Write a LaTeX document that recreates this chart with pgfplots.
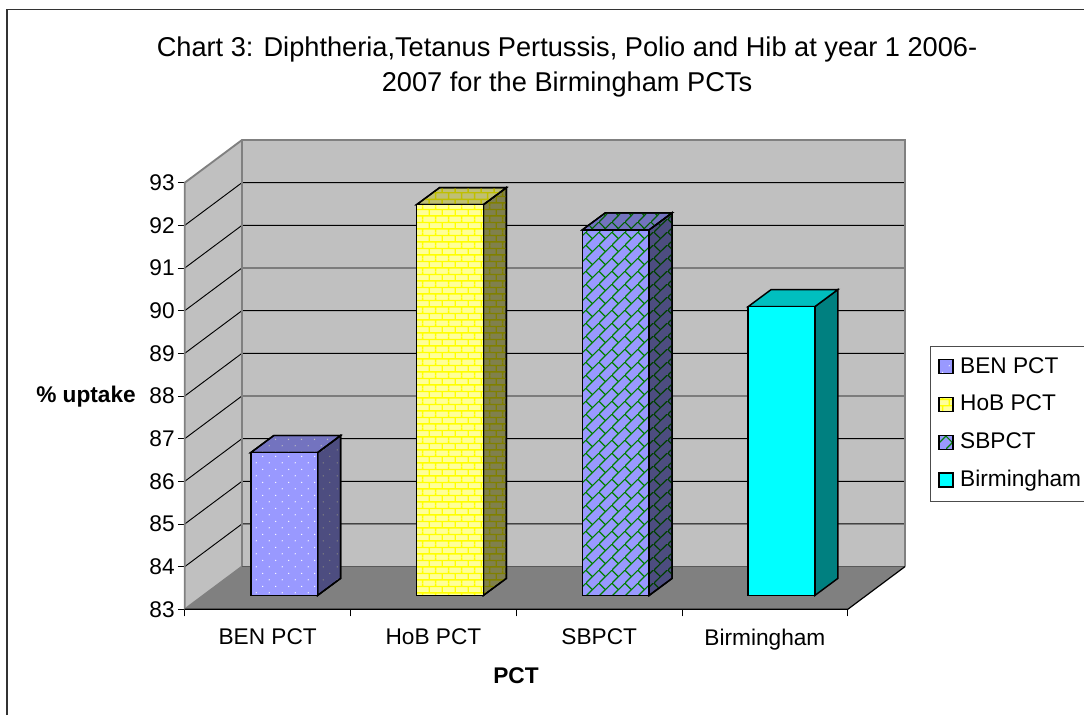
\documentclass[border=0pt]{standalone}
\usepackage{fontspec}
\setmainfont{Liberation Sans}
\usepackage{pgfplots}
\pgfplotsset{compat=1.18}
\usetikzlibrary{patterns}
\pgfdeclarepatternformonly{xdots}{\pgfqpoint{0pt}{0pt}}{\pgfqpoint{10pt}{10pt}}{\pgfqpoint{10pt}{10pt}}{
  \pgfpathcircle{\pgfqpoint{2.5pt}{2.5pt}}{0.55pt}
  \pgfpathcircle{\pgfqpoint{7.5pt}{7.5pt}}{0.55pt}
  \pgfusepath{fill}}
\pgfdeclarepatternformonly{xbricks}{\pgfqpoint{0pt}{0pt}}{\pgfqpoint{10pt}{10pt}}{\pgfqpoint{10pt}{10pt}}{
  \pgfsetlinewidth{1.1pt}
  \pgfpathmoveto{\pgfqpoint{0pt}{2.5pt}}\pgfpathlineto{\pgfqpoint{10pt}{2.5pt}}
  \pgfpathmoveto{\pgfqpoint{0pt}{7.5pt}}\pgfpathlineto{\pgfqpoint{10pt}{7.5pt}}
  \pgfpathmoveto{\pgfqpoint{2.5pt}{2.5pt}}\pgfpathlineto{\pgfqpoint{2.5pt}{7.5pt}}
  \pgfpathmoveto{\pgfqpoint{7.5pt}{7.5pt}}\pgfpathlineto{\pgfqpoint{7.5pt}{10pt}}
  \pgfpathmoveto{\pgfqpoint{7.5pt}{0pt}}\pgfpathlineto{\pgfqpoint{7.5pt}{2.5pt}}
  \pgfusepath{stroke}}
\pgfdeclarepatternformonly{xdiag}{\pgfqpoint{0pt}{0pt}}{\pgfqpoint{10pt}{10pt}}{\pgfqpoint{10pt}{10pt}}{
  \pgfsetlinewidth{0.9pt}
  \pgfpathmoveto{\pgfqpoint{-1pt}{-1pt}}\pgfpathlineto{\pgfqpoint{11pt}{11pt}}
  \pgfpathmoveto{\pgfqpoint{5pt}{5pt}}\pgfpathlineto{\pgfqpoint{-1pt}{11pt}}
  \pgfusepath{stroke}}
\definecolor{wallc}{HTML}{C0C0C0}
\definecolor{floorc}{HTML}{808080}
\definecolor{blueF}{HTML}{9999FF}
\definecolor{blueS}{HTML}{4D4D80}
\definecolor{blueT}{HTML}{7373BF}
\definecolor{yelF}{HTML}{FFFF99}
\definecolor{yelS}{HTML}{80804D}
\definecolor{yelT}{HTML}{BFBF73}
\definecolor{morF}{HTML}{FFFF00}
\definecolor{morS}{HTML}{808000}
\definecolor{morT}{HTML}{BFBF00}
\definecolor{grnF}{HTML}{008000}
\definecolor{grnS}{HTML}{004000}
\definecolor{grnT}{HTML}{006000}
\definecolor{cyaF}{HTML}{00FFFF}
\definecolor{cyaS}{HTML}{008080}
\definecolor{cyaT}{HTML}{00BFBF}
\definecolor{dotS}{HTML}{808080}
\definecolor{dotT}{HTML}{BFBFBF}
\tikzset{
  pat/.style n args={3}{fill=#1,postaction={pattern=#2,pattern color=#3}},
  barshift/.style={shift={(12.4pt,10.35pt)},draw=black,line width=1.1pt,line join=miter},
}
\pgfplotsset{
  legendpatch/.style={legend image code/.code={\draw[##1,draw=black,line width=1pt] (0pt,-5pt) rectangle (10.5pt,5.5pt);}},
}
\begin{document}
\begin{tikzpicture}[x=1pt,y=1pt]
\useasboundingbox (0,0) rectangle (813pt,536.25pt);
\draw[black!80,line width=1.3pt] (5.2pt,0) -- (5.2pt,529.2pt) -- (813pt,529.2pt);
\begin{axis}[
  at={(138.6pt,79.3pt)},anchor=origin,
  scale only axis,width=497.25pt,height=319.95pt,
  xmin=0,xmax=4,ymin=83,ymax=93,clip=false,
  axis line style={draw=none},
  xtick={0,1,2,3,4},
  x tick label as interval,
  xticklabels={BEN PCT,HoB PCT,SBPCT,Birmingham},
  ytick={83,84,85,86,87,88,89,90,91,92,93},
  tick align=outside,tick pos=left,major tick length=5.25pt,
  tick style={black,line width=0.6pt},
  /pgf/number format/assume math mode=true,
  tick label style={font=\fontsize{17}{20}\selectfont},
  xticklabel style={yshift=-6pt},
  yticklabel style={xshift=1.2pt},
  label style={font=\bfseries\fontsize{17}{20}\selectfont},
  xlabel={PCT},
  xlabel style={at={(axis description cs:0.4995,-0.1565)},anchor=center},
  ylabel={\% uptake},
  ylabel style={at={(axis description cs:-0.149,0.4975)},rotate=-90,anchor=center},
  title={Chart 3: Diphtheria,Tetanus Pertussis, Polio and Hib at year 1 2006-\\2007 for the Birmingham PCTs},
  title style={at={(axis description cs:0.5765,1.2524)},anchor=center,align=center,font=\fontsize{20.4}{26}\selectfont},
  legend style={at={(axis description cs:1.1237,0.617)},anchor=north west,draw=black!70,line width=0.6pt,
    font=\fontsize{17}{20}\selectfont,inner xsep=6pt,inner ysep=6pt,
    nodes={text height=12pt,text depth=3pt},/tikz/row sep=9.3pt,/tikz/column sep=3pt},
  legend cell align=left,
]
% walls and floor
\addplot[forget plot,fill=wallc,draw=none] coordinates {(0,83)(0,93)(0.345,94)(0.345,84)} -- cycle;
\addplot[forget plot,fill=wallc,draw=none] coordinates {(0.345,84)(0.345,94)(4.345,94)(4.345,84)} -- cycle;
\addplot[forget plot,fill=floorc,draw=none] coordinates {(0,83)(4,83)(4.345,84)(0.345,84)} -- cycle;
% gridlines
\addplot[forget plot,black,line width=0.7pt] coordinates {(0,84)(0.345,85)(4.345,85)};
\addplot[forget plot,black,line width=0.7pt] coordinates {(0,85)(0.345,86)(4.345,86)};
\addplot[forget plot,black,line width=0.7pt] coordinates {(0,86)(0.345,87)(4.345,87)};
\addplot[forget plot,black,line width=0.7pt] coordinates {(0,87)(0.345,88)(4.345,88)};
\addplot[forget plot,black,line width=0.7pt] coordinates {(0,88)(0.345,89)(4.345,89)};
\addplot[forget plot,black,line width=0.7pt] coordinates {(0,89)(0.345,90)(4.345,90)};
\addplot[forget plot,black,line width=0.7pt] coordinates {(0,90)(0.345,91)(4.345,91)};
\addplot[forget plot,black,line width=0.7pt] coordinates {(0,91)(0.345,92)(4.345,92)};
\addplot[forget plot,black,line width=0.7pt] coordinates {(0,92)(0.345,93)(4.345,93)};
% wall borders
\addplot[forget plot,floorc,line width=1.4pt] coordinates {(0,83)(0,93)(0.345,94)(4.345,94)(4.345,84)};
\addplot[forget plot,floorc,line width=1.4pt] coordinates {(0.345,94)(0.345,84)(0,83)};
\addplot[forget plot,black!65,line width=0.8pt] coordinates {(0.345,84)(4.345,84)};
\addplot[forget plot,black,line width=0.9pt] coordinates {(0,83)(4,83)(4.345,84)};
% BEN PCT
\addplot[forget plot,barshift,pat={blueS}{xdots}{dotS}] coordinates {(0.7013,83)(0.7013,86.35)(0.8401,86.75)(0.8401,83.40)} -- cycle;
\addplot[forget plot,barshift,pat={blueT}{xdots}{dotT}] coordinates {(0.2987,86.35)(0.7013,86.35)(0.8401,86.75)(0.4375,86.75)} -- cycle;
\addplot[forget plot,ybar,bar width=50pt,barshift,pat={blueF}{xdots}{white}] coordinates {(0.5,86.35)};
% HoB PCT
\addplot[forget plot,barshift,pat={yelS}{xbricks}{morS}] coordinates {(1.7013,83)(1.7013,92.16)(1.8401,92.56)(1.8401,83.40)} -- cycle;
\addplot[forget plot,barshift,pat={yelT}{xbricks}{morT}] coordinates {(1.2987,92.16)(1.7013,92.16)(1.8401,92.56)(1.4375,92.56)} -- cycle;
\addplot[forget plot,ybar,bar width=50pt,barshift,pat={yelF}{xbricks}{morF}] coordinates {(1.5,92.16)};
% SBPCT
\addplot[forget plot,barshift,pat={blueS}{xdiag}{grnS}] coordinates {(2.7013,83)(2.7013,91.57)(2.8401,91.97)(2.8401,83.40)} -- cycle;
\addplot[forget plot,barshift,pat={blueT}{xdiag}{grnT}] coordinates {(2.2987,91.57)(2.7013,91.57)(2.8401,91.97)(2.4375,91.97)} -- cycle;
\addplot[forget plot,ybar,bar width=50pt,barshift,pat={blueF}{xdiag}{grnF}] coordinates {(2.5,91.57)};
% Birmingham
\addplot[forget plot,barshift,fill=cyaS] coordinates {(3.7013,83)(3.7013,89.77)(3.8401,90.17)(3.8401,83.40)} -- cycle;
\addplot[forget plot,barshift,fill=cyaT] coordinates {(3.2987,89.77)(3.7013,89.77)(3.8401,90.17)(3.4375,90.17)} -- cycle;
\addplot[forget plot,ybar,bar width=50pt,barshift,fill=cyaF] coordinates {(3.5,89.77)};
% legend
\addlegendimage{legendpatch,pat={blueF}{xdots}{white}}
\addlegendentry{BEN PCT}
\addlegendimage{legendpatch,pat={yelF}{xbricks}{morF}}
\addlegendentry{HoB PCT}
\addlegendimage{legendpatch,pat={blueF}{xdiag}{grnF}}
\addlegendentry{SBPCT}
\addlegendimage{legendpatch,fill=cyaF}
\addlegendentry{Birmingham}
\end{axis}
\end{tikzpicture}
\end{document}
